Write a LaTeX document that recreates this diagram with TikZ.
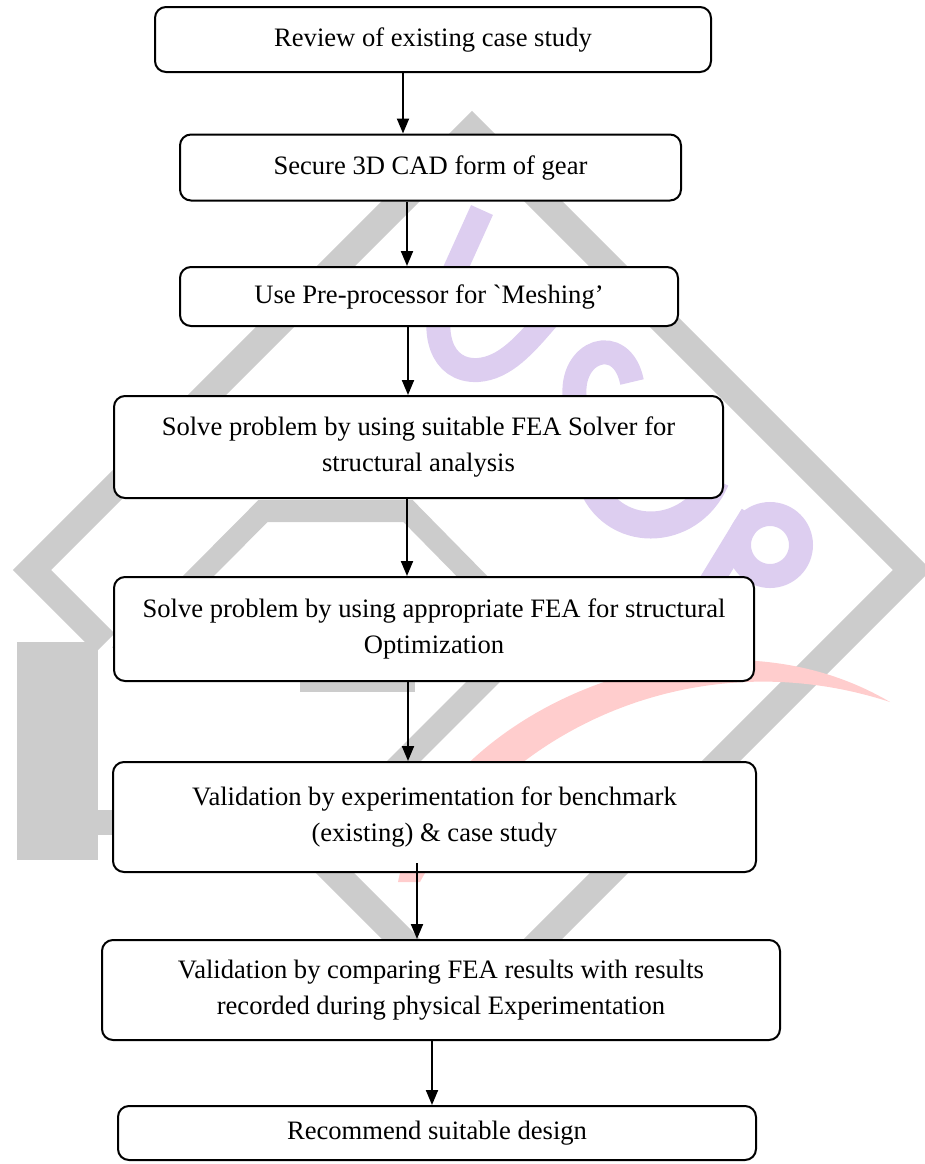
\documentclass[tikz,border=0pt]{standalone}
\usepackage{fontspec}
\setmainfont{Liberation Serif}
\newfontfamily\rawserif{Liberation Serif}[Ligatures=TeXOff]
\usetikzlibrary{arrows.meta,positioning}
\definecolor{wmgray}{RGB}{204,204,204}
\definecolor{wmviolet}{RGB}{221,206,240}
\definecolor{wmpink}{RGB}{255,205,205}
\tikzset{>={Triangle[length=7.5pt,width=6pt]}}

\begin{document}
\begin{tikzpicture}[
        x=0.5pt, y=-0.5pt,
        stage/.style = {draw, rounded corners=5.5pt, line width=1pt, fill=white, align=center,
                        font=\fontsize{13.3}{18}\selectfont, inner sep=2pt},
        flow/.style = {->, line width=1pt},
        band/.style = {wmgray, line width=13.5pt, line join=miter},
        logo/.style = {wmviolet, line width=12pt},
        semithick]

    \useasboundingbox (0,0) rectangle (925,1164);

    % watermark behind the chart
    \draw[band] (105,643) -- (32,570) -- (472,130) -- (912,570) -- (472,1010) -- (290,828);
    \draw[band, line width=11pt] (120,655) -- (263,511) -- (408,511) -- (520,625);
    \draw[band, line width=12pt] (375,790) -- (545,620);
    \fill[wmgray] (300,670) rectangle (415,692);
    \fill[wmgray] (17,642) rectangle (98,860);
    \fill[wmgray] (98,810) rectangle (130,835);
    \fill[wmpink] (398,882) .. controls (430,720) and (700,590) .. (890,702)
        .. controls (700,640) and (505,725) .. (420,882) -- cycle;
    \draw[logo] (482,210) -- (445,292) .. controls (430,330) and (440,372) .. (478,370)
        .. controls (505,368) and (525,345) .. (548,318);
    \draw[logo] (575,400) .. controls (568,350) and (622,332) .. (632,382);
    \draw[logo, line width=13.5pt] (590,480) .. controls (610,540) and (690,540) .. (716,480);
    \draw[logo] (705,592) -- (752,515);
    \draw[logo] (770,545) circle [radius=31];

    % steps
    \node[stage, minimum width=278pt, minimum height=32.5pt] (review) at (433,39.5) {Review of existing case study};
    \node[stage, minimum width=250.5pt, minimum height=33pt] (cad) at (430.5,167.5) {Secure 3D CAD form of gear};
    \node[stage, minimum width=249pt, minimum height=29.5pt] (mesh) at (429,296.5) {Use Pre-processor for {\rawserif`}Meshing’};
    \node[stage, minimum width=304.5pt, minimum height=51pt] (solve) at (418.5,447)
        {Solve problem by using suitable FEA Solver for\\structural analysis};
    \node[stage, minimum width=320pt, minimum height=52pt] (optim) at (434,629)
        {Solve problem by using appropriate FEA for structural\\Optimization};
    \node[stage, minimum width=321.5pt, minimum height=55pt] (bench) at (434.5,817)
        {Validation by experimentation for benchmark\\(existing) \& case study};
    \node[stage, minimum width=339pt, minimum height=50pt] (compare) at (441,990)
        {Validation by comparing FEA results with results\\recorded during physical Experimentation};
    \node[stage, minimum width=319pt, minimum height=27pt] (design) at (437,1133) {Recommend suitable design};

    \foreach \a/\b/\x in {review/cad/403, cad/mesh/407, mesh/solve/408, solve/optim/407,
                          optim/bench/408, compare/design/432}
        \draw[flow] (\a.south -| \x,0) -- (\b.north -| \x,0);

    \path (bench.south -| 417,0) ++(0,-10) coordinate (benchout);
    \draw[flow] (benchout) -- (compare.north -| 417,0);

\end{tikzpicture}
\end{document}
